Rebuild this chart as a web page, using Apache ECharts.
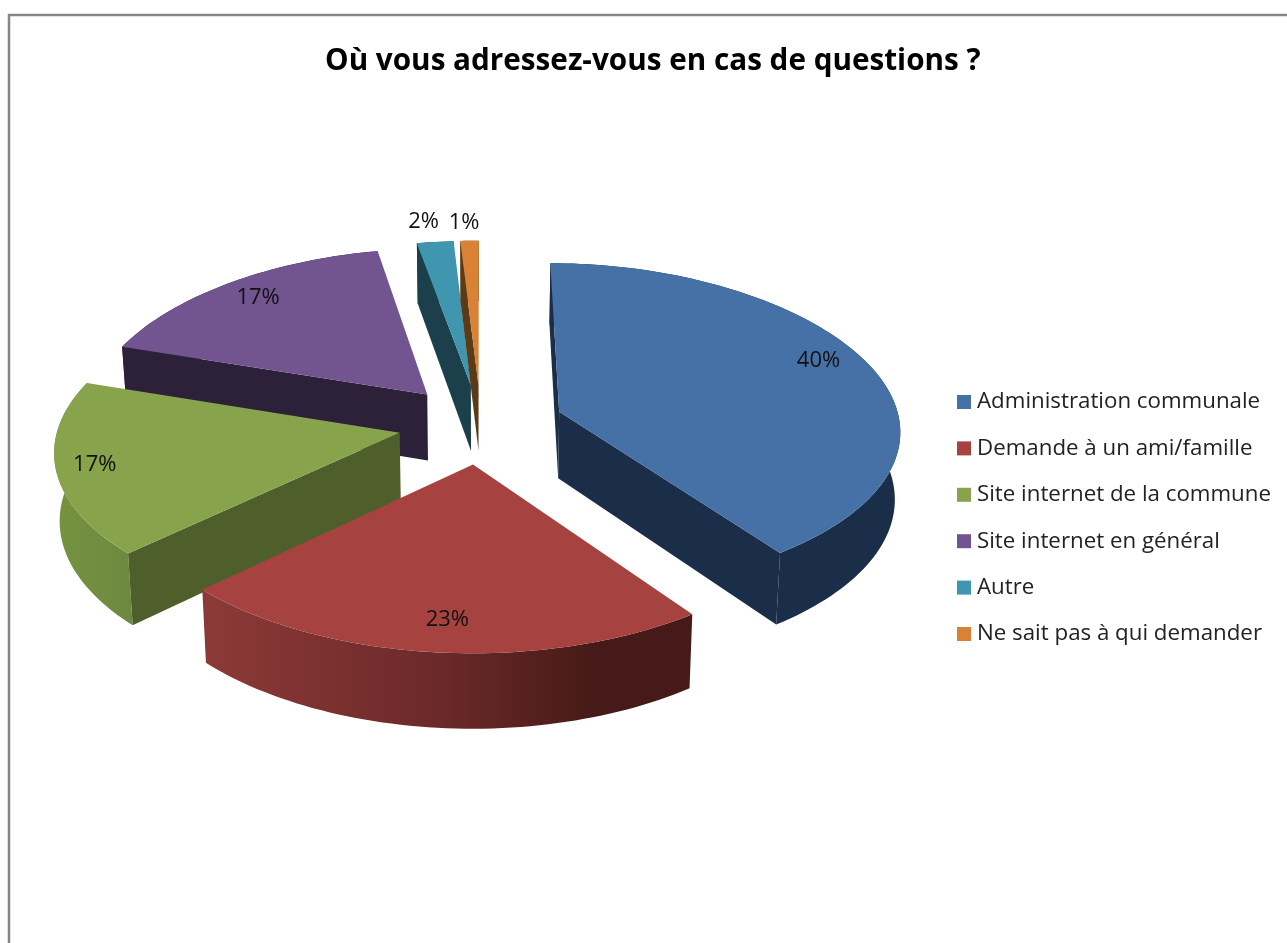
<!DOCTYPE html>
<html><head><meta charset="utf-8">
<style>html,body{margin:0;padding:0;background:#fff}#c{width:1287px;height:943px}</style>
<script src="https://cdn.jsdelivr.net/npm/echarts@6/dist/echarts.min.js"></script>
</head><body><div id="c"></div>
<script>
const categories = ['Administration communale','Demande à un ami/famille','Site internet de la commune','Site internet en général','Autre','Ne sait pas à qui demander'];
const values = [40,23,17,17,2,1];
const topColors = ['#4571a7','#a6423f','#87a34c','#715490','#4096ae','#d98235'];
const wallColors = ['#1a2e49','#451a18','#4f5f2b','#2c2138','#1b404c','#5b3a16'];
const paintOrder = [3,4,5,0,2,1];
const labelNudge = [[11,-12],[3,8],[-31,3],[-8,-6],[-18,-47],[-7,-45]];

const cx=481, cy=424, rx=341, ry=164, perspA=0.105, perspB=0.02, perspY=0.09, depth=67, explode=0.243, bottomShrink=0.987;
const total = values.reduce((a,b)=>a+b,0);
function project(u,v,down){
  const wx=1-perspA*v+perspB*v*v, wy=1-perspY*v;
  return [cx+rx*u/wx*(down?bottomShrink:1), cy+(ry*v+(down?depth:0))/wy];
}
function shoelace(p){let s=0;for(let i=0;i<p.length;i++){const a=p[i],b=p[(i+1)%p.length];s+=a[0]*b[1]-b[0]*a[1];}return s;}
function rimFill(i){
  if(i===1) return new echarts.graphic.LinearGradient(202,0,697,0,[
    {offset:0,color:'#8c3a38'},{offset:0.5,color:'#6a2828'},{offset:0.8,color:'#451a18'},{offset:1,color:'#451a18'}],true);
  if(i===2) return new echarts.graphic.LinearGradient(54,0,130,0,[
    {offset:0,color:'#76933f'},{offset:1,color:'#6d8940'}],true);
  return wallColors[i];
}
function renderSlice(params){
  const i=params.seriesIndex;
  const before=values.slice(0,i).reduce((a,b)=>a+b,0);
  const a0=before/total*2*Math.PI, a1=(before+values[i])/total*2*Math.PI, m=(a0+a1)/2;
  const ox=explode*Math.sin(m), oy=-explode*Math.cos(m);
  const at=(a,r,d)=>project(ox+r*Math.sin(a),oy-r*Math.cos(a),d);
  const steps=Math.max(4,Math.ceil((a1-a0)*40));
  const topArc=[],botArc=[];
  for(let k=0;k<=steps;k++){const a=a0+(a1-a0)*k/steps;topArc.push(at(a,1,false));botArc.push(at(a,1,true));}
  const tip=at(0,0,false), tipD=at(0,0,true);
  const children=[];
  children.push({type:'polygon',shape:{points:topArc.concat(botArc.slice().reverse())},style:{fill:rimFill(i)}});
  const s=[tip,topArc[0],botArc[0],tipD];
  if(shoelace(s)<0) children.push({type:'polygon',shape:{points:s},style:{fill:wallColors[i]}});
  const e=[topArc[steps],tip,tipD,botArc[steps]];
  if(shoelace(e)<0) children.push({type:'polygon',shape:{points:e},style:{fill:wallColors[i]}});
  children.push({type:'polygon',shape:{points:[tip].concat(topArc)},style:{fill:topColors[i]}});
  const lp=at(m,0.8,false);
  children.push({type:'text',x:lp[0]+labelNudge[i][0],y:lp[1]+labelNudge[i][1],
    style:{text:values[i]+'%',fill:'#111',font:'22px "Open Sans"',align:'center',verticalAlign:'middle'}});
  return {type:'group',children};
}
const chart=echarts.init(document.getElementById('c'));
chart.setOption({
  animation:false,
  backgroundColor:'#fff',
  title:{text:'Où vous adressez-vous en cas de questions ?',left:320,top:42,
    textStyle:{fontFamily:'"Open Sans"',fontWeight:'bold',fontSize:29.7,color:'#000'}},
  legend:{orient:'vertical',left:952,top:386,itemWidth:14,itemHeight:14,itemGap:24.4,icon:'rect',
    data:categories,selectedMode:false,
    textStyle:{fontFamily:'"Open Sans"',fontSize:22.3,color:'#222',padding:[0,0,0,1]}},
  graphic:[{type:'polyline',shape:{points:[[9,943],[9,15],[1287,15]]},silent:true,
    style:{stroke:'#868686',lineWidth:2.5,fill:null}}],
  series:categories.map((name,i)=>({
    type:'custom',name,coordinateSystem:'none',
    z:2+paintOrder.indexOf(i),
    itemStyle:{color:topColors[i]},
    data:[[values[i]]],
    renderItem:renderSlice,silent:true
  }))
});
</script></body></html>
